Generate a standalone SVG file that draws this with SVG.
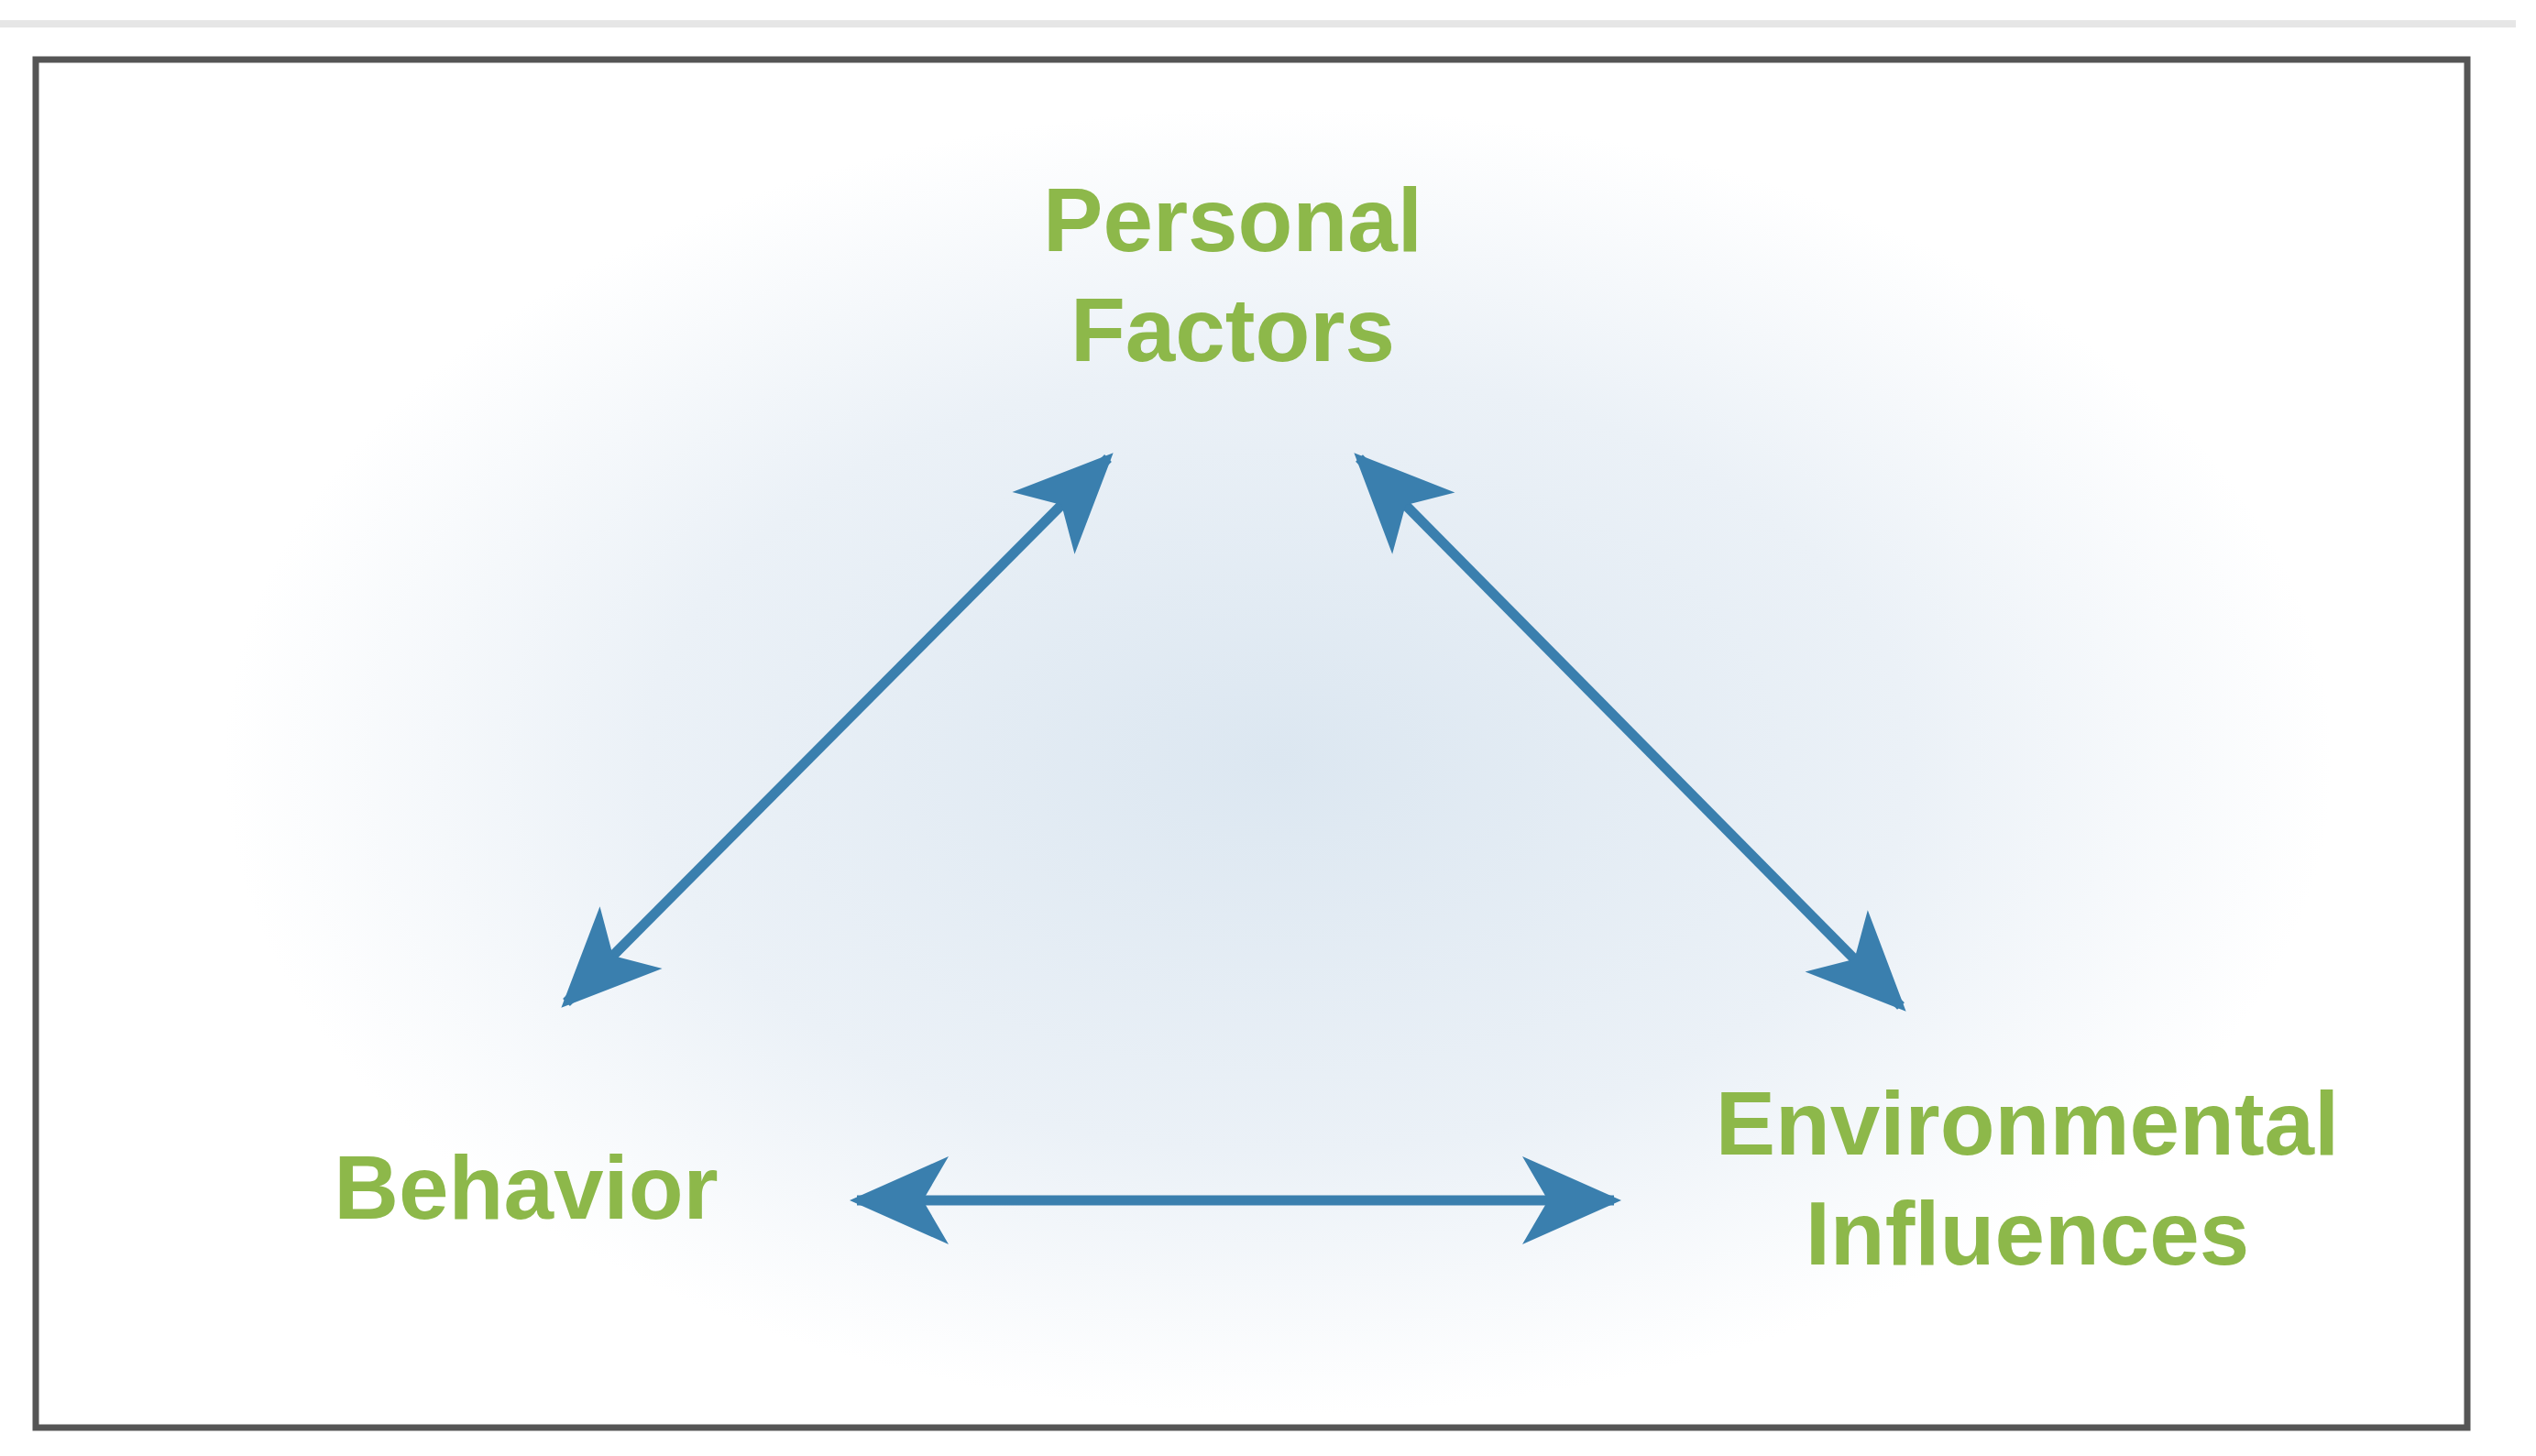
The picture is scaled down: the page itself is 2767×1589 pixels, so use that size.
<svg xmlns="http://www.w3.org/2000/svg" width="2767" height="1589" viewBox="0 0 2767 1589">
<style>
.lbl{font-family:"Liberation Sans",Arial,sans-serif;font-weight:bold;font-size:98px;fill:#8db84a;text-anchor:middle}
.conn{stroke:#3a7fae;stroke-width:11;fill:none;marker-start:url(#ah);marker-end:url(#ah)}
</style>
<defs>
<radialGradient id="bg" cx="1395" cy="830" r="1150" gradientUnits="userSpaceOnUse" gradientTransform="translate(1395 830) scale(1 0.62) translate(-1395 -830)">
<stop offset="0" stop-color="#dce7f1"/>
<stop offset="0.6" stop-color="#ebf1f7"/>
<stop offset="1" stop-color="#ffffff"/>
</radialGradient>
<marker id="ah" markerUnits="userSpaceOnUse" markerWidth="140" markerHeight="120" viewBox="-110 -60 130 120" refX="0" refY="0" orient="auto-start-reverse">
<path d="M8,0 L-100,-48 L-72,0 L-100,48 Z" fill="#3a7fae"/>
</marker>
</defs>
<rect width="2767" height="1589" fill="#fff"/>
<line x1="0" y1="26" x2="2745" y2="26" stroke="#e6e6e6" stroke-width="8"/>
<rect x="39" y="65" width="2653" height="1493" fill="url(#bg)" stroke="#555" stroke-width="7"/>
<g id="personal"><text class="lbl" x="1345" y="274">Personal</text><text class="lbl" x="1345" y="394">Factors</text></g>
<g id="behavior"><text class="lbl" x="574" y="1330">Behavior</text></g>
<g id="environmental"><text class="lbl" x="2212" y="1260">Environmental</text><text class="lbl" x="2212" y="1380">Influences</text></g>
<g id="connectors">
<line class="conn" x1="618" y1="1094" x2="1209" y2="500"/>
<line class="conn" x1="1483" y1="500" x2="2074" y2="1098"/>
<line class="conn" x1="935" y1="1310" x2="1761" y2="1310"/>
</g>
</svg>
